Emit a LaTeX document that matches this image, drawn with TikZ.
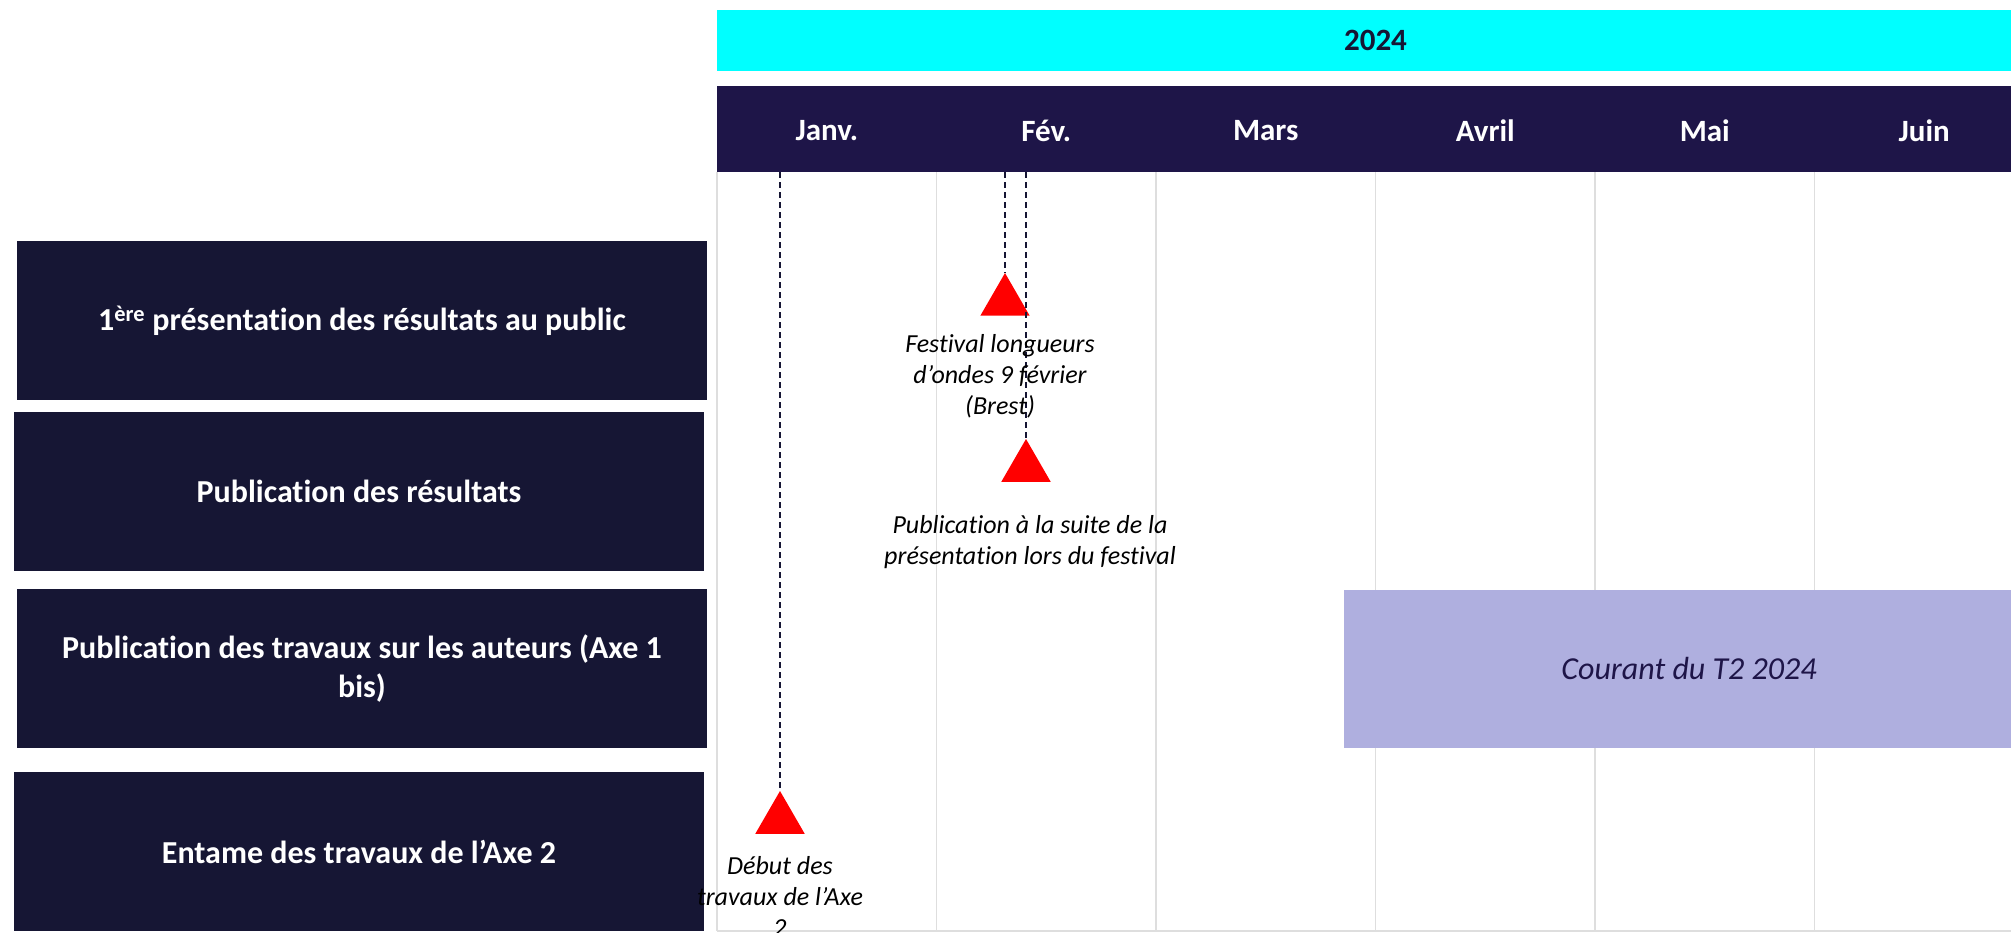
\documentclass[tikz,border=0pt]{standalone}
\usepackage{fontspec}
\setmainfont{Carlito}[Ligatures=TeX,RawFeature={-liga;-clig;-calt;-dlig}]
\usetikzlibrary{positioning,shapes.geometric}
\definecolor{nuit}{HTML}{161634}
\definecolor{violet}{HTML}{1E1548}
\definecolor{anneecol}{HTML}{00FFFF}
\definecolor{lavande}{HTML}{AFAFDF}
\definecolor{grille}{HTML}{DEDEDE}
\tikzset{
  tache/.style={fill=nuit,text=white,font=\bfseries\fontsize{32}{39}\selectfont,
    minimum width=690,minimum height=159,inner sep=0,align=center},
  bandeau/.style={minimum width=1317,inner sep=0},
  mois/.style={text=white,font=\bfseries\fontsize{31}{38}\selectfont},
  jalon/.style={regular polygon,regular polygon sides=3,fill=red,minimum size=57,inner sep=0},
  note/.style={font=\itshape\fontsize{26}{31}\selectfont,align=center,inner sep=0},
  repere/.style={draw=nuit,line width=1.5,dash pattern=on 6 off 4},
}
\begin{document}
\begin{tikzpicture}[x=1pt,y=-1pt]
  \useasboundingbox (0,0) rectangle (2011,933);
  \foreach \i in {0,...,6}
    \draw[grille,line width=1.5] ({717+219.5*\i},172) -- ({717+219.5*\i},931);
  \draw[grille,line width=1.5] (717,931) -- (2034,931);
  \node[bandeau,fill=anneecol,minimum height=61,text=nuit,
    font=\bfseries\fontsize{31}{38}\selectfont] (annee) at (1375.5,40.5) {2024};
  \node[bandeau,fill=violet,minimum height=86] (bande) at (1375.5,129) {};
  \foreach \m [count=\i] in {Janv.,Fév.,Mars,Avril,Mai,Juin}
    \node[mois] (m\i) at ({717+219.5*(\i-0.5)},131) {\m};
  \node[tache] (t1) at (362,320.5) {1\textsuperscript{ère} présentation des résultats au public};
  \node[tache] (t2) at (359,491.5) {Publication des résultats};
  \node[tache] (t3) at (362,668.5) {Publication des travaux sur les auteurs (Axe 1\\bis)};
  \node[tache] (t4) at (359,851.5) {Entame des travaux de l’Axe 2};
  \node[fill=lavande,minimum width=690,minimum height=158,inner sep=0,text=violet,
    font=\itshape\fontsize{32}{38}\selectfont] (courant) at (1689,669) {Courant du T2 2024};
  \node[jalon] (j1) at (1005,301.5) {};
  \node[jalon] (j2) at (1026,467.5) {};
  \node[jalon] (j3) at (780,819.5) {};
  \begin{scope}[repere]
    \draw (j1.corner 1 |- bande.south) -- (j1.corner 1);
    \draw (j2.corner 1 |- bande.south) -- (j2.corner 1);
    \draw (j3.corner 1 |- bande.south) -- (j3.corner 1);
  \end{scope}
  \node[note] (n1) at (1000,376) {Festival longueurs\\d’ondes 9 février\\(Brest)};
  \node[note] (n2) at (1030,542) {Publication à la suite de la\\présentation lors du festival};
  \node[note] (n3) at (780,896) {Début des\\travaux de l’Axe\\2};
\end{tikzpicture}
\end{document}
